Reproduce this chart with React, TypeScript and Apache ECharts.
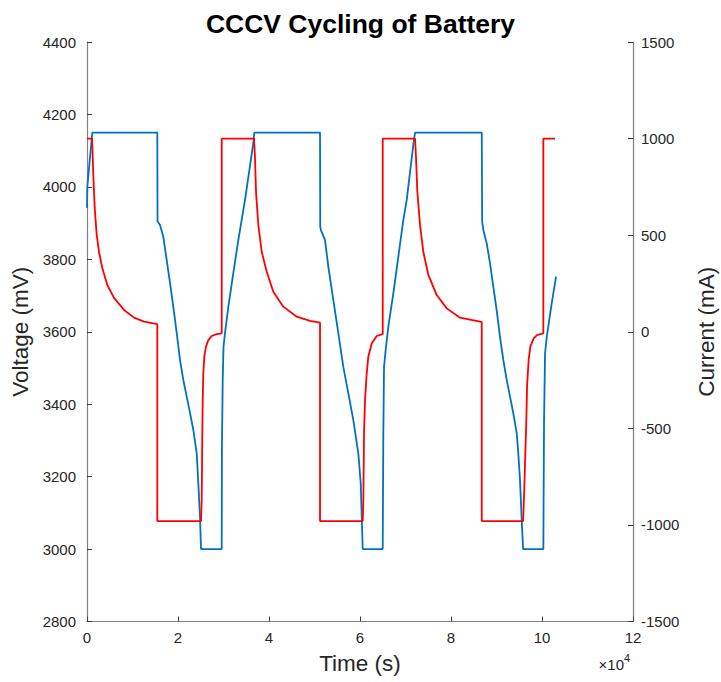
import React, { useEffect, useRef } from "react";
import * as echarts from "echarts";

// Time in seconds, voltage in mV (left axis)
const voltTime = [
  0, 66, 1165, 15452, 15500, 16046, 16771, 17518, 18244, 18969, 19716, 20441, 21167, 21914, 22639, 23365, 24112, 24464, 24837, 25057,
  29607, 29650, 29827, 30003, 30332, 31057, 32156, 33255, 34728, 36552, 36772,
  51213, 51260, 51433, 52312, 53037, 54136, 55235, 56334, 57433, 58532, 59631, 60159, 60379, 60599,
  64995, 65126, 65281, 65720, 66226, 67325, 68424, 69523, 70270, 71763, 72094,
  86756, 86850, 87105, 87852, 88578, 89303, 90037, 90771, 91497, 92243, 92969, 93694, 94441, 94793, 95166, 95540, 95850,
  100295, 100449, 100668, 101042, 102141, 103086,
];
const voltValues = [
  3942, 4000, 4150, 4150, 3905, 3895, 3862, 3798, 3735, 3669, 3597, 3522, 3467, 3421, 3376, 3329, 3265, 3182, 3088, 3000,
  3000, 3274, 3467, 3559, 3597, 3669, 3762, 3853, 3964, 4121, 4150,
  4150, 3890, 3880, 3853, 3780, 3688, 3596, 3503, 3430, 3356, 3264, 3182, 3089, 3000,
  3000, 3320, 3503, 3559, 3614, 3706, 3807, 3909, 3964, 4121, 4150,
  4150, 3904, 3881, 3844, 3789, 3724, 3660, 3586, 3522, 3467, 3421, 3375, 3320, 3264, 3191, 3080, 3000,
  3000, 3356, 3540, 3586, 3679, 3752,
];

// Time in seconds, current in mA (right axis)
const currTime = [
  0, 1100, 1165, 1385, 1692, 2132, 2638, 3363, 4462, 5935, 8133, 10331, 12529, 15452,
  15452, 25057, 25211, 25277, 25343, 25431, 25563, 25783, 26156, 26662, 27409, 28508, 29607,
  29607, 36707, 36926, 37146, 37652, 38399, 39498, 40949, 43147, 46092, 49015, 51213,
  51213, 60599, 60731, 60885, 61104, 61478, 61830, 62577, 63676, 64995,
  64995, 72094, 72314, 72600, 73193, 73918, 75017, 76864, 79062, 81985, 86381, 86756,
  86756, 95850, 96119, 96339, 96558, 96712, 97064, 97437, 98163, 98909, 99634, 100295,
  100295, 102866,
];
const currValues = [
  1000, 1000, 967, 811, 641, 501, 413, 330, 242, 175, 113, 73, 52, 39,
  -980, -980, -871, -698, -526, -353, -215, -129, -77, -43, -22, -12, -8,
  1000, 1000, 900, 723, 553, 414, 311, 207, 130, 78, 56, 47,
  -980, -980, -871, -524, -353, -215, -129, -60, -22, -12,
  1000, 1000, 900, 725, 553, 414, 294, 190, 121, 73, 52, 50,
  -980, -980, -802, -629, -457, -284, -146, -77, -34, -17, -12, -8,
  1000, 1000,
];

const xTickStep = 20000;
const xScale = 10000;

const FONT = "Liberation Sans, Arial, Helvetica, sans-serif";
const TXT = "#262626";

export default function App() {
  const ref = useRef<HTMLDivElement>(null);
  useEffect(() => {
    if (!ref.current) return;
    const chart = echarts.init(ref.current, null, { renderer: "svg" });
    const vData = voltTime.map((t, i) => [t, voltValues[i]]);
    const cData = currTime.map((t, i) => [t, currValues[i]]);
    const axisLine = { show: true, onZero: false, lineStyle: { color: "#808080", width: 1.2 } };
    const axisTick = { show: true, inside: true, length: 5, lineStyle: { color: "#404040" } };
    const axisLabel = { color: TXT, fontSize: 15, fontFamily: FONT, formatter: (v: number) => String(v) };
    const nameStyle = { fontSize: 22.5, color: TXT, fontFamily: FONT };
    chart.setOption({
      animation: false,
      backgroundColor: "#ffffff",
      title: {
        text: "CCCV Cycling of Battery",
        left: "center",
        top: 5,
        textStyle: { fontSize: 26.5, fontWeight: "bold", color: "#000", fontFamily: FONT },
      },
      grid: { left: 87, right: 88, top: 42, bottom: 60.5, containLabel: false, outerBoundsMode: "none" },
      xAxis: {
        type: "value",
        min: 0,
        max: 120000,
        interval: xTickStep,
        axisLine,
        axisTick,
        splitLine: { show: false },
        axisLabel: { ...axisLabel, margin: 8, formatter: (v: number) => String(v / xScale) },
        name: "Time (s)",
        nameLocation: "middle",
        nameGap: 30,
        nameTextStyle: nameStyle,
      },
      yAxis: [
        {
          type: "value",
          position: "left",
          min: 2800,
          max: 4400,
          interval: 200,
          axisLine,
          axisTick,
          splitLine: { show: false },
          axisLabel: { ...axisLabel, margin: 11 },
          name: "Voltage (mV)",
          nameLocation: "middle",
          nameRotate: 90,
          nameGap: 48,
          nameTextStyle: nameStyle,
        },
        {
          type: "value",
          position: "right",
          min: -1500,
          max: 1500,
          interval: 500,
          axisLine,
          axisTick,
          splitLine: { show: false },
          axisLabel: { ...axisLabel, margin: 8 },
          name: "Current (mA)",
          nameLocation: "middle",
          nameRotate: 90,
          nameGap: 62,
          nameTextStyle: nameStyle,
        },
      ],
      graphic: [
        {
          type: "text",
          right: 97,
          top: 657,
          style: { text: "×10", fontSize: 15, fill: TXT, fontFamily: FONT },
        },
        {
          type: "text",
          left: 624,
          top: 652,
          style: { text: "4", fontSize: 11, fill: TXT, fontFamily: FONT },
        },
      ],
      series: [
        {
          type: "line",
          name: "Voltage",
          yAxisIndex: 0,
          data: vData,
          showSymbol: false,
          lineStyle: { color: "#0072BD", width: 1.8 },
          itemStyle: { color: "#0072BD" },
        },
        {
          type: "line",
          name: "Current",
          yAxisIndex: 1,
          data: cData,
          showSymbol: false,
          lineStyle: { color: "#FF0000", width: 1.8 },
          itemStyle: { color: "#FF0000" },
        },
      ],
    });
    return () => chart.dispose();
  }, []);
  return <div ref={ref} style={{ position: "fixed", left: 0, top: 0, width: 721, height: 682 }} />;
}
